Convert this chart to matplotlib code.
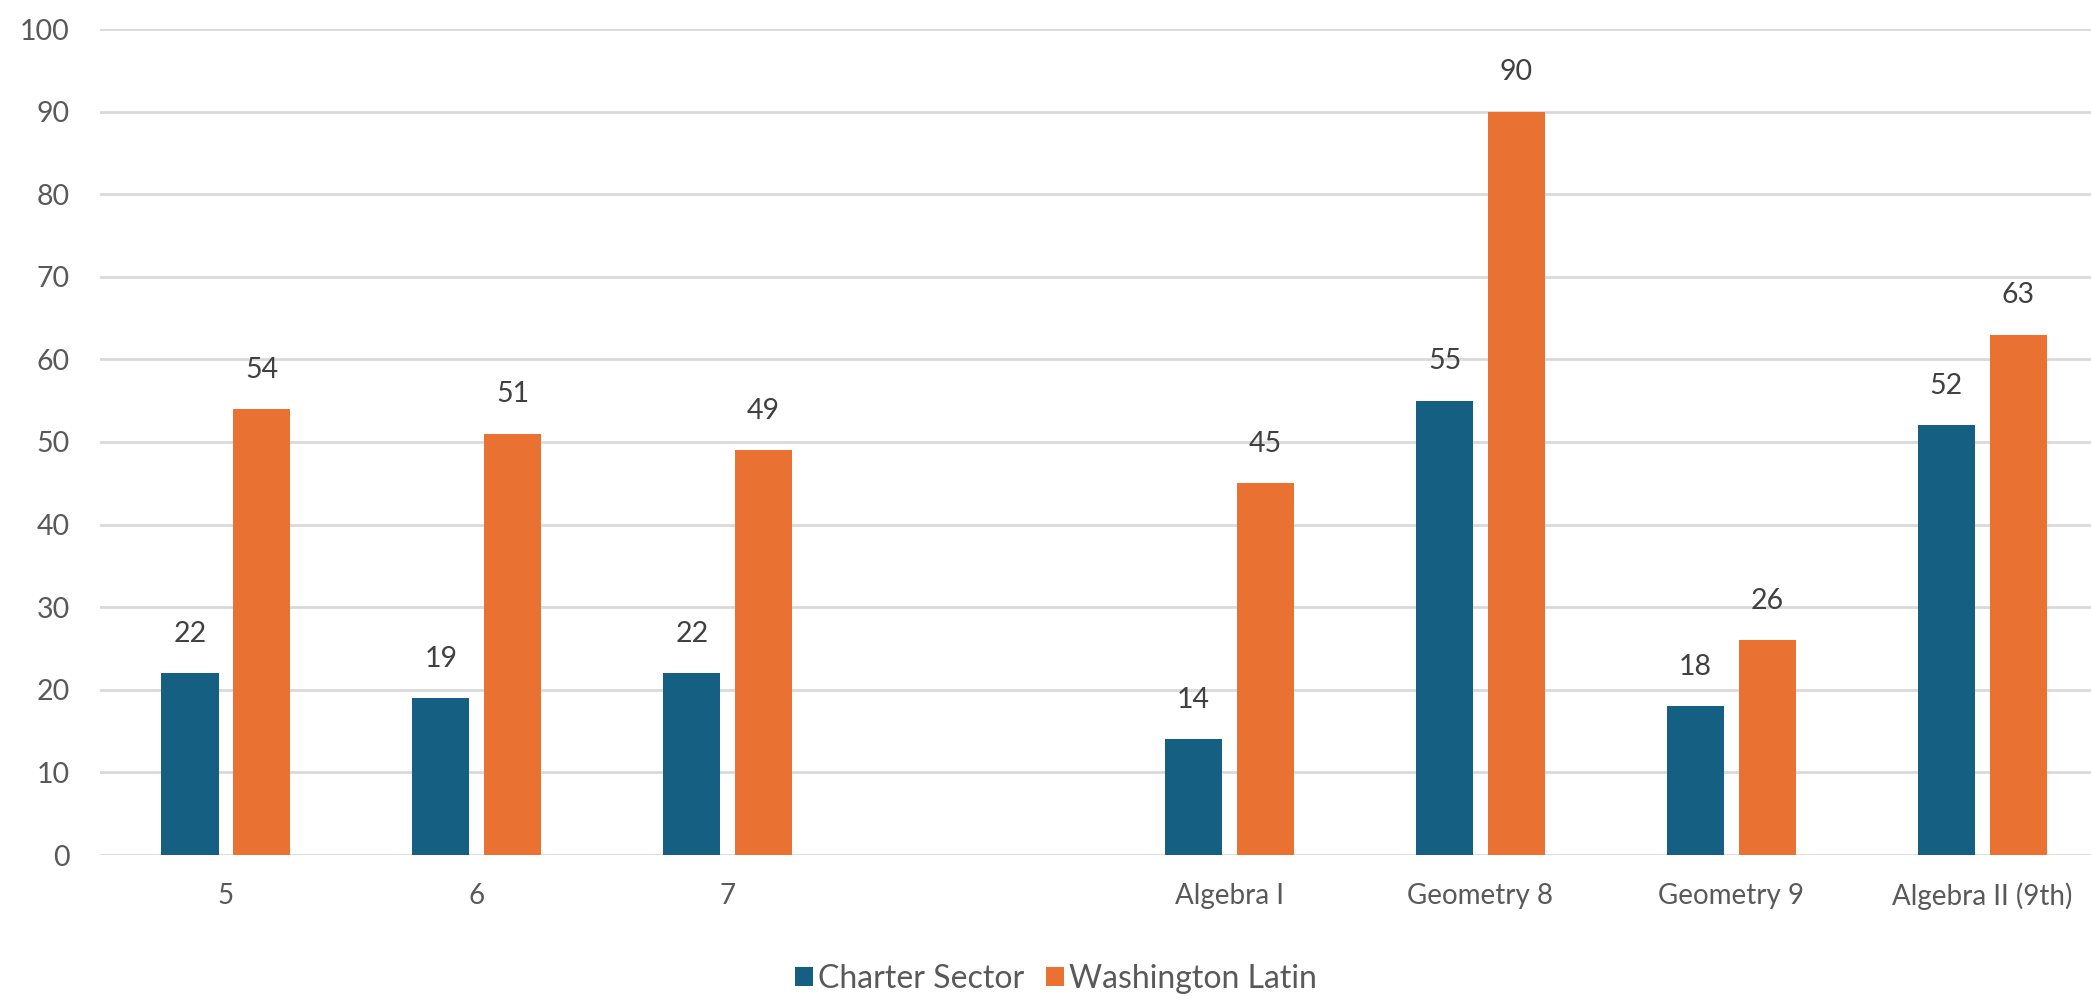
import matplotlib
matplotlib.use("Agg")
import matplotlib.pyplot as plt
import numpy as np
from matplotlib.patches import Patch

categories = ["5", "6", "7", "", "Algebra I", "Geometry 8", "Geometry 9", "Algebra II (9th)"]
charter_sector = [22, 19, 22, None, 14, 55, 18, 52]
washington_latin = [54, 51, 49, None, 45, 90, 26, 63]
series_names = ["Charter Sector", "Washington Latin"]
yticks = [0, 10, 20, 30, 40, 50, 60, 70, 80, 90, 100]

BLUE = "#156082"
ORANGE = "#E97132"
GRID = "#D9D9D9"
TICK_COLOR = "#595959"
LABEL_COLOR = "#404040"

plt.rcParams['font.family'] = ['Lato', 'DejaVu Sans']

fig = plt.figure(figsize=(20.91, 10), dpi=100)
ax = fig.add_axes([0.048, 0.145, 0.96, 0.826])

x = np.arange(len(categories))
width = 0.228
offset = 0.143

for vals, off, color in [(charter_sector, -offset, BLUE), (washington_latin, offset, ORANGE)]:
    xs = [xi + off for xi, v in zip(x, vals) if v is not None]
    vs = [v for v in vals if v is not None]
    bars = ax.bar(xs, vs, width=width, color=color, zorder=3)
    for b, v in zip(bars, vs):
        ax.annotate(str(v), (b.get_x() + b.get_width() / 2, v),
                    xytext=(0, 19), textcoords="offset points",
                    ha="center", va="bottom", fontsize=20.5, color=LABEL_COLOR)

ax.set_xlim(-0.5, len(categories) - 0.5)
ax.set_ylim(0, 100)
ax.set_yticks(yticks)
ax.set_xticks(x)
ax.set_xticklabels(categories)
ax.tick_params(axis="both", length=0, labelsize=20, labelcolor=TICK_COLOR)
ax.tick_params(axis="y", pad=22, labelsize=20.5)
ax.tick_params(axis="x", pad=20)
ax.yaxis.grid(True, color=GRID, linewidth=2, zorder=0)
ax.set_axisbelow(True)
for s in ax.spines.values():
    s.set_visible(False)

handles = [Patch(facecolor=BLUE), Patch(facecolor=ORANGE)]
fig.legend(handles, series_names, loc="center", bbox_to_anchor=(0.505, 0.021),
           ncol=2, frameon=False, fontsize=23, labelcolor=TICK_COLOR,
           handlelength=0.55, handleheight=0.55, handletextpad=0.15,
           columnspacing=0.7, borderpad=0)

fig.savefig("out.png", dpi=100)
